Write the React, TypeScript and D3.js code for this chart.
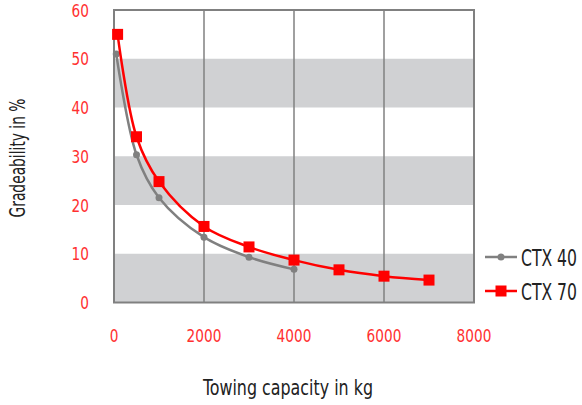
import * as d3 from "d3";

const W = 582;
const H = 405;
const M = { top: 10, right: 108, bottom: 102.5, left: 114 };

const xTicks = [0, 2000, 4000, 6000, 8000];
const yTicks = [0, 10, 20, 30, 40, 50, 60];
const bands = [
  [0, 10],
  [20, 30],
  [40, 50],
];

const ctx40X = [50, 500, 1000, 2000, 3000, 4000];
const ctx40Y = [51, 30.3, 21.5, 13.4, 9.3, 6.8];

const ctx70X = [80, 500, 1000, 2000, 3000, 4000, 5000, 6000, 7000];
const ctx70Y = [55, 34, 24.8, 15.6, 11.4, 8.7, 6.7, 5.4, 4.6];

const FONT = "'DejaVu Sans Condensed', 'Liberation Sans Narrow', Roboto, sans-serif";
const RED = "#ff0000";
const GRAY = "#808080";
const TICK_RED = "#ff3030";
const DIGIT_W = 8.7; // condensed digits in the original

export default function App() {
  const iw = W - M.left - M.right;
  const ih = H - M.top - M.bottom;

  const x = d3.scaleLinear().domain([0, 8000]).range([0, iw]);
  const y = d3.scaleLinear().domain([0, 60]).range([ih, 0]);

  const line = d3
    .line<[number, number]>()
    .x((d) => x(d[0]))
    .y((d) => y(d[1]))
    .curve(d3.curveCatmullRom.alpha(0.5));

  const s40 = ctx40X.map((v, i) => [v, ctx40Y[i]] as [number, number]);
  const s70 = ctx70X.map((v, i) => [v, ctx70Y[i]] as [number, number]);

  return (
    <svg
      width={W}
      height={H}
      style={{ position: "absolute", left: 0, top: 0, background: "#fff" }}
      fontFamily={FONT}
    >
      <g transform={`translate(${M.left},${M.top})`}>
        {bands.map(([a, b]) => (
          <rect key={a} x={0} y={y(b)} width={iw} height={y(a) - y(b)} fill="#d0d1d3" />
        ))}
        {xTicks.slice(1, -1).map((t) => (
          <line key={t} x1={x(t)} x2={x(t)} y1={0} y2={ih} stroke={GRAY} strokeWidth={1.5} />
        ))}
        <rect x={0} y={0} width={iw} height={ih} fill="none" stroke={GRAY} strokeWidth={2} />

        {yTicks.map((t) => (
          <text
            key={t}
            x={-25}
            y={y(t) + 6.5}
            textAnchor="end"
            fontSize={17.5}
            fill={TICK_RED}
            textLength={String(t).length * DIGIT_W}
            lengthAdjust="spacingAndGlyphs"
          >
            {t}
          </text>
        ))}
        {xTicks.map((t) => (
          <text
            key={t}
            x={x(t)}
            y={ih + 39}
            textAnchor="middle"
            fontSize={17.5}
            fill={TICK_RED}
            textLength={String(t).length * DIGIT_W}
            lengthAdjust="spacingAndGlyphs"
          >
            {t}
          </text>
        ))}

        <path d={line(s40) ?? ""} fill="none" stroke={GRAY} strokeWidth={2.5} />
        {s40.map((d, i) => (
          <circle key={i} cx={x(d[0])} cy={y(d[1])} r={3.5} fill={GRAY} />
        ))}
        <path d={line(s70) ?? ""} fill="none" stroke={RED} strokeWidth={2.5} />
        {s70.map((d, i) => (
          <rect key={i} x={x(d[0]) - 5.5} y={y(d[1]) - 5.5} width={11} height={11} fill={RED} />
        ))}
      </g>

      <text
        transform={`translate(25,158) rotate(-90)`}
        textAnchor="middle"
        fontSize={21}
        fill="#222"
        textLength={119}
        lengthAdjust="spacingAndGlyphs"
      >
        Gradeability in %
      </text>
      <text
        x={288}
        y={395}
        textAnchor="middle"
        fontSize={21.5}
        fill="#222"
        textLength={170}
        lengthAdjust="spacingAndGlyphs"
      >
        Towing capacity in kg
      </text>

      <g transform="translate(485,257)">
        <line x1={0} x2={32} y1={0} y2={0} stroke={GRAY} strokeWidth={2.5} />
        <circle cx={16} cy={0} r={3.5} fill={GRAY} />
        <text x={36} y={8.5} fontSize={23} fill="#222" textLength={56} lengthAdjust="spacingAndGlyphs">
          CTX 40
        </text>
      </g>
      <g transform="translate(485,291)">
        <line x1={0} x2={32} y1={0} y2={0} stroke={RED} strokeWidth={2.5} />
        <rect x={10.5} y={-5.5} width={11} height={11} fill={RED} />
        <text x={36} y={8.5} fontSize={23} fill="#222" textLength={56} lengthAdjust="spacingAndGlyphs">
          CTX 70
        </text>
      </g>
    </svg>
  );
}
